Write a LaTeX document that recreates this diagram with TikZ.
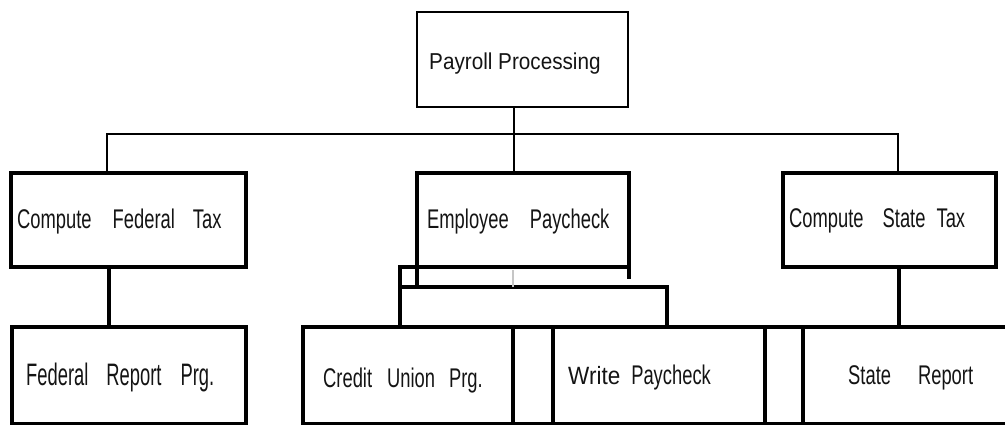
\documentclass[tikz,border=0pt]{standalone}
\usepackage{fontspec}
\usepackage{graphicx}
\setmainfont{Liberation Sans}
\newfontfamily\condfont[FakeStretch=0.68]{Liberation Sans}
\newfontfamily\wideishfont[FakeStretch=0.9]{Liberation Sans}
\begin{document}
\begin{tikzpicture}[x=1pt,y=-1pt,
  box/.style={draw=black, line width=3.2pt, rectangle, inner sep=0pt, outer sep=0pt, anchor=north west},
  topbox/.style={box, line width=1.8pt},
  bus/.style={line width=2.2pt},
  link/.style={line width=3.2pt},
  lbl/.style={anchor=base west, inner sep=0pt, font=\condfont\fontsize{27}{30}\selectfont, text=black!92},
]
\useasboundingbox (0,0) rectangle (1005,424);

% module boxes
\node[topbox, minimum width=211pt, minimum height=95pt] (top) at (417,12) {};
\node[box, minimum width=235pt, minimum height=94pt] (fed) at (11,173) {};
\node[box, minimum width=212pt, minimum height=94pt] (emp) at (417,173) {};
\node[box, minimum width=213pt, minimum height=94pt] (st)  at (783,173) {};

\node[box, minimum width=234pt, minimum height=97pt] (fr) at (12,327) {};
\node[box, minimum width=210pt, minimum height=97pt] (cu) at (303,327) {};
\node[box, minimum width=40pt,  minimum height=97pt] (g1) at (513,327) {};
\node[box, minimum width=212pt, minimum height=97pt] (wp) at (553,327) {};
\node[box, minimum width=38pt,  minimum height=97pt] (g2) at (765,327) {};
\node[box, minimum width=215pt, minimum height=97pt] (sr) at (803,327) {};

% labels
\node[lbl, font=\wideishfont\fontsize{23}{26}\selectfont] (t0) at (429,69) {Payroll Processing};
\node[lbl] (t1) at (17,228) {Compute\hspace{21pt}Federal\hspace{18pt}Tax};
\node[lbl] (t2) at (427,228) {Employee\hspace{21pt}Paycheck};
\node[lbl] (t3) at (789,227) {Compute\hspace{19pt}State\hspace{11pt}Tax};
\node[lbl] (t4) at (26,385) {\scalebox{1}[1.15]{Federal\hspace{18pt}Report\hspace{19pt}Prg.}};
\node[lbl] (t5) at (323,387) {Credit\hspace{15pt}Union\hspace{14pt}Prg.};
\node[lbl] (t6) at (568,384) {{\wideishfont\fontsize{25}{28}\selectfont Write}\hspace{11pt}Paycheck};
\node[lbl] (t7) at (848,384) {State\hspace{27pt}Report};

% bus from the top module to the three second-level modules
\coordinate (busL) at (107,134);
\coordinate (busM) at (514,134);
\coordinate (busR) at (898,134);
\draw[bus] (busM |- top.south) -- (busM) -- (busM |- emp.north);
\draw[bus] (busL |- fed.north) -- (busL) -- (busR) -- (busR |- st.north);

% second level to third level
\draw[link] ([xshift=-19.5pt]fed.south) -- ([xshift=-19.5pt]fed.south |- fr.north);
\draw[link] ([xshift=9.5pt]st.south) -- ([xshift=9.5pt]st.south |- sr.north);

% frame under Employee Paycheck
\coordinate (fL) at (400,267);
\coordinate (fM) at (400,287);
\coordinate (fR) at (667,287);
\draw[link] (emp.south west) -- (fL) -- (fL |- cu.north);
\draw[link] (emp.south west) -- ++(0,20);
\draw[link] (emp.south east) -- ++(0,12);
\draw[link] (fM) -- (fR) -- (fR |- cu.north);
\draw[gray!45, line width=1.5pt] ([xshift=-10pt,yshift=-3pt]emp.south) -- ([xshift=-10pt]emp.south |- fM);
\end{tikzpicture}
\end{document}
